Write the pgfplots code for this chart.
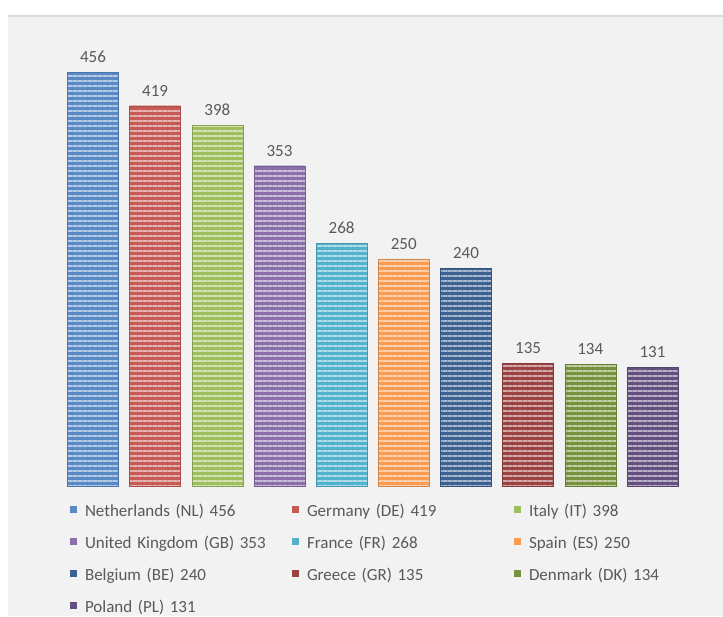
\documentclass[border=0pt]{standalone}
\usepackage{pgfplots}
\pgfplotsset{compat=1.18}
\usetikzlibrary{patterns.meta}
\usepackage{fontspec}
\setmainfont{Carlito}
\definecolor{bg}{HTML}{F2F2F2}
\definecolor{txt}{HTML}{595959}
\definecolor{c1}{HTML}{5A8AC6}
\definecolor{c2}{HTML}{C65A57}
\definecolor{c3}{HTML}{9FBF5F}
\definecolor{c4}{HTML}{8A6FAA}
\definecolor{c5}{HTML}{52B2CB}
\definecolor{c6}{HTML}{F79C52}
\definecolor{c7}{HTML}{3D6292}
\definecolor{c8}{HTML}{9A4341}
\definecolor{c9}{HTML}{76923C}
\definecolor{c10}{HTML}{64507F}
\pgfplotsset{
  stripebar/.style={fill=#1, draw=#1!85!black, line width=0.5pt,
    postaction={pattern={Lines[angle=0,distance=5pt,line width=1.8pt]}, pattern color=#1!45!white},
    forget plot},
  legsq/.style={fill=#1, draw=none},
}
\begin{document}
\begin{tikzpicture}[x=1pt,y=1pt]
\useasboundingbox (0,0) rectangle (723,616);
\fill[white] (0,0) rectangle (723,616);
\fill[bg] (8,0) rectangle (723,600);
\draw[black!14, line width=1.2pt] (8,600) -- (723,600);
\begin{axis}[
  at={(61.92pt,130pt)}, anchor=south west,
  scale only axis, width=621.6pt, height=453.5pt,
  xmin=-0.5, xmax=9.5, ymin=0, ymax=500,
  hide axis, clip=false,
  ybar, bar width=51pt, bar shift=0pt,
  nodes near coords,
  every node near coord/.append style={font=\fontsize{17}{20}\selectfont, text=txt, yshift=6pt},
  /pgf/number format/assume math mode=true,
  legend columns=3,
  legend cell align=left,
  legend image code/.code={\fill[#1] (0pt,0pt) rectangle (7pt,7pt);},
  legend style={at={(0.013,-0.0408)}, anchor=north west, draw=none, fill=none,
    inner sep=0pt, outer sep=0pt, column sep=8pt, row sep=16pt,
    font=\fontsize{17}{20}\selectfont, text=txt,
    nodes={inner sep=0pt, text height=12pt, text depth=4pt, text width=199pt, align=left}},
]
\addplot[stripebar=c1] coordinates {(0,456)};
\addplot[stripebar=c2] coordinates {(1,419)};
\addplot[stripebar=c3] coordinates {(2,398)};
\addplot[stripebar=c4] coordinates {(3,353)};
\addplot[stripebar=c5] coordinates {(4,268)};
\addplot[stripebar=c6] coordinates {(5,250)};
\addplot[stripebar=c7] coordinates {(6,240)};
\addplot[stripebar=c8] coordinates {(7,135)};
\addplot[stripebar=c9] coordinates {(8,134)};
\addplot[stripebar=c10] coordinates {(9,131)};
\addlegendimage{legsq=c1}\addlegendentry{Netherlands (NL) 456}
\addlegendimage{legsq=c2}\addlegendentry{Germany (DE) 419}
\addlegendimage{legsq=c3}\addlegendentry{Italy (IT) 398}
\addlegendimage{legsq=c4}\addlegendentry{United Kingdom (GB) 353}
\addlegendimage{legsq=c5}\addlegendentry{France (FR) 268}
\addlegendimage{legsq=c6}\addlegendentry{Spain (ES) 250}
\addlegendimage{legsq=c7}\addlegendentry{Belgium (BE) 240}
\addlegendimage{legsq=c8}\addlegendentry{Greece (GR) 135}
\addlegendimage{legsq=c9}\addlegendentry{Denmark (DK) 134}
\addlegendimage{legsq=c10}\addlegendentry{Poland (PL) 131}
\end{axis}
\end{tikzpicture}
\end{document}
